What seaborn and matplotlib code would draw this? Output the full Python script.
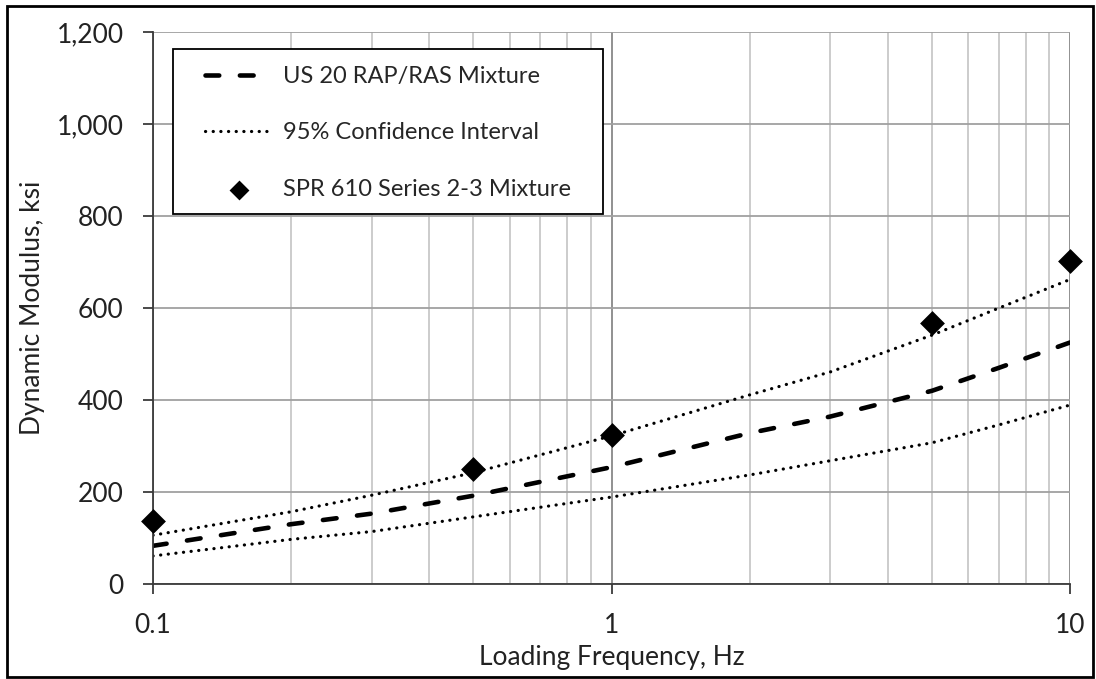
import matplotlib
matplotlib.use("Agg")
import matplotlib.pyplot as plt
from matplotlib.patches import Rectangle
from matplotlib.ticker import FixedLocator, FuncFormatter, LogLocator, NullFormatter
import seaborn as sns
import pandas as pd

# Master-curve frequencies (Hz) and dynamic modulus (ksi)
freq_curve = [0.1, 0.2, 0.3, 0.5, 1, 2, 3, 5, 7, 10]
mean_modulus = [83, 130, 153, 192, 254, 328, 364, 420, 470, 525]
upper_ci = [106, 157, 193, 242, 322, 411, 461, 541, 600, 662]
lower_ci = [61, 97, 114, 146, 189, 237, 268, 307, 346, 389]

# Measured mixture
freq_test = [0.1, 0.5, 1, 5, 10]
test_modulus = [138, 251, 325, 568, 703]

y_ticks = [0, 200, 400, 600, 800, 1000, 1200]
x_ticks = [0.1, 1, 10]

sns.set_style("white")
plt.rcParams["font.family"] = ["Lato", "DejaVu Sans"]

W, H = 1096, 679
L, R, T, B = 153, 1070, 32, 584
fig = plt.figure(figsize=(W / 100, H / 100), dpi=100)
ax = fig.add_axes([L / W, 1 - B / H, (R - L) / W, (B - T) / H])

curve = pd.DataFrame({"freq": freq_curve, "mean": mean_modulus,
                      "upper": upper_ci, "lower": lower_ci})
test = pd.DataFrame({"freq": freq_test, "modulus": test_modulus})

sns.lineplot(data=curve, x="freq", y="mean", ax=ax, color="black", lw=3.3,
             label="US 20 RAP/RAS Mixture")
ax.lines[-1].set_dashes([3.0, 4.5])
ax.lines[-1].set_dash_capstyle("round")
sns.lineplot(data=curve, x="freq", y="upper", ax=ax, color="black", lw=2.3,
             label="95% Confidence Interval")
ax.lines[-1].set_dashes([0.05, 2.35])
ax.lines[-1].set_dash_capstyle("round")
sns.lineplot(data=curve, x="freq", y="lower", ax=ax, color="black", lw=2.3)
ax.lines[-1].set_dashes([0.05, 2.35])
ax.lines[-1].set_dash_capstyle("round")
sns.scatterplot(data=test, x="freq", y="modulus", ax=ax, marker="D", s=160,
                color="black", edgecolor="black", linewidth=0, zorder=5,
                label="SPR 610 Series 2-3 Mixture", clip_on=False)

ax.set_xscale("log")
ax.set_xlim(0.1, 10)
ax.set_ylim(0, 1200)
ax.xaxis.set_major_locator(FixedLocator(x_ticks))
ax.xaxis.set_major_formatter(FuncFormatter(lambda v, p: f"{v:g}"))
ax.xaxis.set_minor_locator(LogLocator(base=10, subs=range(2, 10)))
ax.xaxis.set_minor_formatter(NullFormatter())
ax.yaxis.set_major_locator(FixedLocator(y_ticks))
ax.yaxis.set_major_formatter(FuncFormatter(lambda v, p: f"{int(v):,}"))

ax.grid(True, which="major", axis="y", color="#a0a0a0", lw=1.3)
ax.grid(True, which="major", axis="x", color="#888888", lw=1.3)
ax.grid(True, which="minor", axis="x", color="#c8c8c8", lw=1.3)
ax.set_axisbelow(True)

for side in ("top", "right"):
    ax.spines[side].set_visible(False)
for side in ("left", "bottom"):
    ax.spines[side].set_color("#3a3a3a")
    ax.spines[side].set_linewidth(1.3)

ax.tick_params(axis="both", which="major", direction="out", length=7, width=1.3,
               color="#3a3a3a", labelsize=19, labelcolor="#222222",
               left=True, bottom=True)
ax.tick_params(axis="y", which="major", pad=14)
ax.tick_params(axis="x", which="major", pad=14)
ax.tick_params(axis="x", which="minor", length=0)

ax.set_xlabel("Loading Frequency, Hz", fontsize=19, color="#222222", labelpad=0)
ax.set_ylabel("Dynamic Modulus, ksi", fontsize=19, color="#222222", labelpad=10)
ax.xaxis.set_label_coords(0.5, -(657 - B) / (B - T), transform=ax.transAxes)
ax.yaxis.set_label_coords(-(L - 33) / (R - L), 0.5, transform=ax.transAxes)
ax.xaxis.label.set_va("center")
ax.yaxis.label.set_va("center")

# Legend box drawn as its own rectangle; entries placed inside it
box_l, box_t, box_r, box_b = 173, 49, 603, 214
ax.add_patch(Rectangle(((box_l - L) / (R - L), (B - box_b) / (B - T)),
                       (box_r - box_l) / (R - L), (box_b - box_t) / (B - T),
                       transform=ax.transAxes, facecolor="white",
                       edgecolor="black", lw=1.3, zorder=6))
handles, labels = ax.get_legend_handles_labels()
leg = ax.legend(handles, labels, loc="upper left",
                bbox_to_anchor=((205 - L) / (R - L), (B - 66) / (B - T)),
                fontsize=17, frameon=False, borderpad=0, labelspacing=1.5,
                handlelength=2.9, handletextpad=0.4, borderaxespad=0,
                markerscale=0.8)
leg.set_zorder(7)

# Outer chart border
fig.add_artist(Rectangle((7 / W, 2 / H), 1086 / W, 671 / H,
                         transform=fig.transFigure, fill=False,
                         edgecolor="black", lw=2))

fig.savefig("out.png", dpi=100)
